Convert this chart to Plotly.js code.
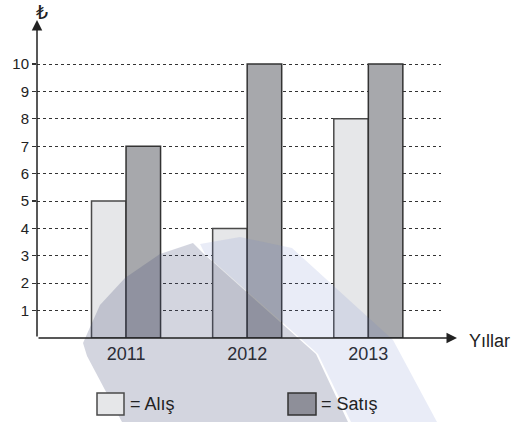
<!DOCTYPE html>
<html><head><meta charset="utf-8">
<script src="https://cdn.plot.ly/plotly-3.0.1.min.js"></script>
<style>html,body{margin:0;padding:0;background:#fff}#c{width:521px;height:422px}</style>
</head><body><div id="c"></div>
<script>
const years = ['2011', '2012', '2013'];
const alis = [5, 4, 8];
const satis = [7, 10, 10];
const seriesNames = ['Alış', 'Satış'];
const yTicks = [1, 2, 3, 4, 5, 6, 7, 8, 9, 10];
const xTitle = 'Yıllar';
const yTitle = '₺';

const W = 521, H = 422, L = 37, R = 441, T = 23, B = 338;
const px = x => (x - L) / (R - L);
const py = y => (B - y) / (B - T);
const FONT = 'Liberation Sans, Arial, DejaVu Sans, sans-serif';

const traces = [
  {type: 'bar', x: [0, 1, 2], y: alis, name: seriesNames[0],
   marker: {color: '#e6e7e9', line: {color: '#4a4a4a', width: 1.5}}},
  {type: 'bar', x: [0, 1, 2], y: satis, name: seriesNames[1],
   marker: {color: '#a7a8ac', line: {color: '#333', width: 1.5}}}
];

function poly(pts) {
  return pts.map((p, i) => (i ? 'L' : 'M') + px(p[0]).toFixed(4) + ',' + py(p[1]).toFixed(4)).join(' ') + ' Z';
}

const shapes = [
  // watermark bands
  {type: 'path', xref: 'paper', yref: 'paper', layer: 'above', line: {width: 0},
   fillcolor: 'rgba(110,125,200,0.15)',
   path: poly([[200,244],[240,237],[292,248],[393,340],[437,422],[351,422],[318,354],[205,254]])},
  {type: 'path', xref: 'paper', yref: 'paper', layer: 'above', line: {width: 0},
   fillcolor: 'rgba(70,78,120,0.24)',
   path: poly([[83,343],[100,305],[125,278],[160,254],[193,243],[204,254],[316,354],[348,422],[122,422],[87,356]])},
  // legend boxes
  {type: 'rect', xref: 'paper', yref: 'paper', x0: px(97), x1: px(124), y0: py(415), y1: py(393),
   fillcolor: '#e6e7e9', line: {color: '#4a4a4a', width: 1.5}},
  {type: 'rect', xref: 'paper', yref: 'paper', x0: px(288), x1: px(316), y0: py(415), y1: py(393),
   fillcolor: '#8e8f99', line: {color: '#333', width: 1.5}}
];

const annotations = [
  // y axis with arrow
  {xref: 'paper', yref: 'paper', x: 0, y: py(20), ax: 0, ay: B - 20, axref: 'pixel', ayref: 'pixel',
   showarrow: true, arrowhead: 2, arrowsize: 1.4, arrowwidth: 1.5, arrowcolor: '#222', text: ''},
  // x axis with arrow
  {xref: 'paper', yref: 'paper', x: px(457), y: 0, ax: -(457 - L), ay: 0,
   showarrow: true, arrowhead: 2, arrowsize: 1.4, arrowwidth: 1.5, arrowcolor: '#222', text: ''},
  {xref: 'paper', yref: 'paper', x: px(467), y: py(341), xanchor: 'left', yanchor: 'middle',
   showarrow: false, text: xTitle, font: {family: FONT, size: 18, color: '#222'}},
  {xref: 'paper', yref: 'paper', x: px(42), y: py(13), xanchor: 'center', yanchor: 'middle',
   showarrow: false, text: yTitle, font: {family: FONT, size: 19, color: '#222'}},
  {xref: 'paper', yref: 'paper', x: px(128), y: py(404), xanchor: 'left', yanchor: 'middle',
   showarrow: false, text: '= ' + seriesNames[0], font: {family: FONT, size: 18, color: '#222'}},
  {xref: 'paper', yref: 'paper', x: px(319), y: py(404), xanchor: 'left', yanchor: 'middle',
   showarrow: false, text: '= ' + seriesNames[1], font: {family: FONT, size: 18, color: '#222'}}
];

const layout = {
  width: W, height: H,
  margin: {l: L, r: W - R, t: T, b: H - B, pad: 0},
  paper_bgcolor: '#fff', plot_bgcolor: '#fff',
  showlegend: false,
  barmode: 'group', bargap: 0.43, bargroupgap: 0,
  font: {family: FONT, size: 15, color: '#222'},
  xaxis: {range: [-0.735, 2.6], tickvals: [0, 1, 2], ticktext: years, showgrid: false,
          zeroline: false, showline: false, ticks: '', tickfont: {size: 18, color: '#222'},
          ticklabelstandoff: 3, fixedrange: true},
  yaxis: {range: [0, 11.5], tickvals: yTicks, showgrid: true, gridcolor: '#333', gridwidth: 1,
          griddash: '3px,3px', zeroline: false, showline: false, ticks: 'outside', ticklen: 4,
          tickcolor: '#333', tickwidth: 1.2, tickfont: {size: 15, color: '#222'}, fixedrange: true},
  shapes: shapes,
  annotations: annotations
};

Plotly.newPlot('c', traces, layout, {displayModeBar: false, staticPlot: true});
</script>
</body></html>
